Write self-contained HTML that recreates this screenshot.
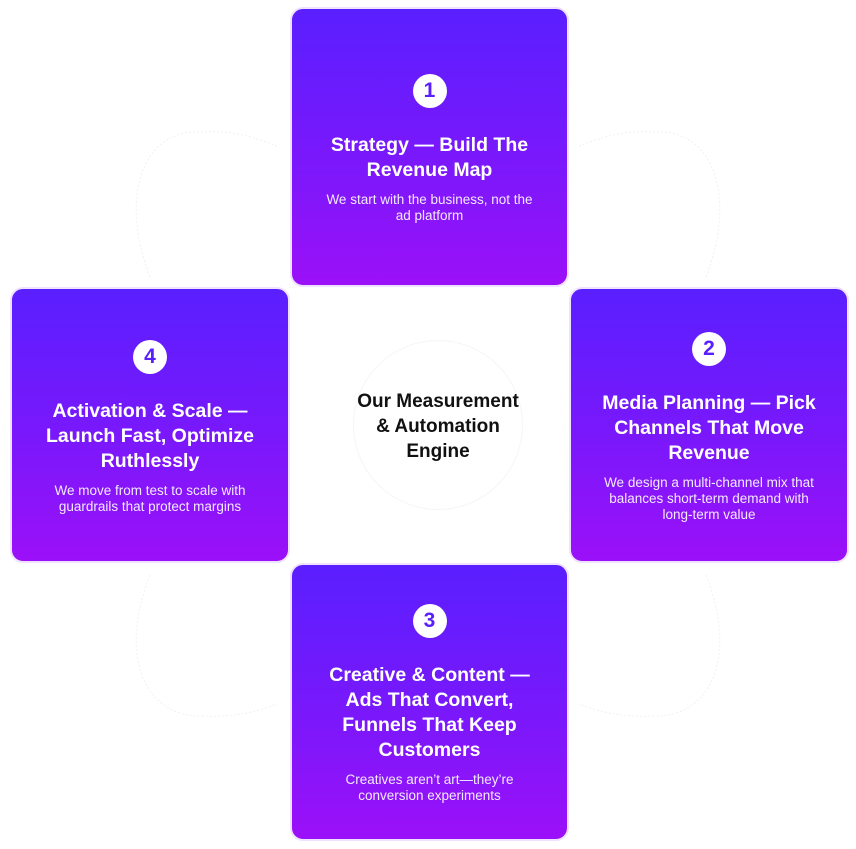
<!DOCTYPE html>
<html><head><meta charset="utf-8"><style>
*{margin:0;padding:0;box-sizing:border-box}
html,body{width:856px;height:849px;background:#fff;overflow:hidden;font-family:"Liberation Sans",sans-serif}
.card{position:absolute;border-radius:13px;border:2px solid #efe2ff;background:linear-gradient(180deg,#5a1fff 0%,#7a18fb 55%,#9b10f8 100%);display:flex;flex-direction:column;align-items:center;justify-content:center;color:#fff;text-align:center;padding-top:4px}
.num{width:34px;height:34px;border-radius:50%;background:#fff;color:#5a1fff;font-weight:bold;font-size:21px;line-height:34px;margin-bottom:25px}
.t{font-weight:bold;font-size:19.5px;line-height:25px}
.s{font-size:13.5px;line-height:16px;margin-top:9px;color:#f3eaff}
.center{position:absolute;left:353px;top:340px;width:170px;height:170px;border-radius:50%;border:1px solid #f6f4fa;display:flex;align-items:center;justify-content:center;text-align:center;font-weight:bold;font-size:19px;line-height:25px;color:#111;padding-top:2px}
svg{position:absolute;left:0;top:0}
</style></head><body>
<svg width="856" height="849"><g fill="none" stroke="#f1eef8" stroke-width="1" stroke-dasharray="2 2">
<path d="M150 277 C120 200 140 130 200 132 C240 130 260 140 277 146"/>
<path d="M706 277 C736 200 716 130 656 132 C616 130 596 140 579 146"/>
<path d="M150 575 C120 650 140 715 200 716 C240 718 260 710 277 704"/>
<path d="M706 575 C736 650 716 715 656 716 C616 718 596 710 579 704"/>
</g></svg>
<div class="card" style="left:290px;top:7px;width:279px;height:280px">
<div class="num">1</div><div class="t">Strategy — Build The<br>Revenue Map</div><div class="s">We start with the business, not the<br>ad platform</div></div>
<div class="card" style="left:10px;top:287px;width:280px;height:276px">
<div class="num">4</div><div class="t">Activation &amp; Scale —<br>Launch Fast, Optimize<br>Ruthlessly</div><div class="s">We move from test to scale with<br>guardrails that protect margins</div></div>
<div class="card" style="left:569px;top:287px;width:280px;height:276px">
<div class="num">2</div><div class="t">Media Planning — Pick<br>Channels That Move<br>Revenue</div><div class="s">We design a multi-channel mix that<br>balances short-term demand with<br>long-term value</div></div>
<div class="card" style="left:290px;top:563px;width:279px;height:278px">
<div class="num">3</div><div class="t">Creative &amp; Content —<br>Ads That Convert,<br>Funnels That Keep<br>Customers</div><div class="s">Creatives aren’t art—they’re<br>conversion experiments</div></div>
<div class="center">Our Measurement<br>&amp; Automation<br>Engine</div>
</body></html>
